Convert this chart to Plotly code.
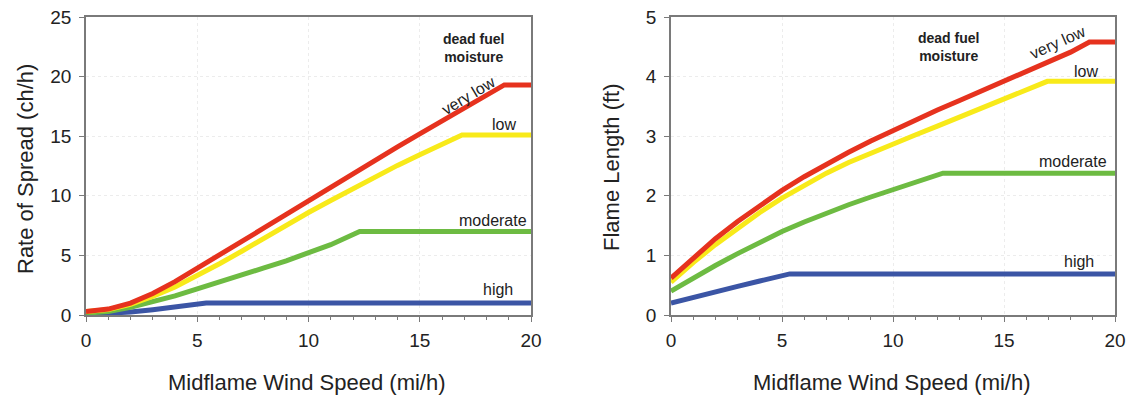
import plotly.graph_objects as go
from plotly.subplots import make_subplots

# ---- Rate of spread (ch/h) vs midflame wind speed (mi/h) ----
ros_vlow_x = [0, 1, 2, 3, 4, 5, 6, 7, 8, 9, 10, 11, 12, 13, 14, 15, 16, 17, 18, 18.8, 20]
ros_vlow_y = [0.3, 0.5, 1.0, 1.8, 2.8, 3.9, 5.0, 6.15, 7.3, 8.45, 9.6, 10.75, 11.9, 13.0, 14.1, 15.2, 16.3, 17.35, 18.4, 19.3, 19.3]
ros_low_x = [0, 1, 2, 3, 4, 5, 6, 7, 8, 9, 10, 11, 12, 13, 14, 15, 16, 16.9, 20]
ros_low_y = [0.3, 0.45, 0.9, 1.55, 2.35, 3.3, 4.3, 5.35, 6.45, 7.55, 8.6, 9.6, 10.6, 11.6, 12.55, 13.45, 14.3, 15.1, 15.1]
ros_mod_x = [0, 1, 2, 3, 4, 5, 6, 7, 8, 9, 10, 11, 12.3, 20]
ros_mod_y = [0.15, 0.3, 0.65, 1.1, 1.6, 2.2, 2.75, 3.35, 3.95, 4.55, 5.2, 5.9, 7.0, 7.0]
ros_high_x = [0, 1, 2, 3, 4, 5.4, 20]
ros_high_y = [0.05, 0.1, 0.25, 0.45, 0.7, 1.0, 1.0]

# ---- Flame length (ft) vs midflame wind speed (mi/h) ----
fl_vlow_x = [0, 1, 2, 3, 4, 5, 6, 7, 8, 9, 10, 11, 12, 13, 14, 15, 16, 17, 18, 18.85, 20]
fl_vlow_y = [0.62, 0.96, 1.28, 1.57, 1.84, 2.09, 2.32, 2.53, 2.73, 2.92, 3.1, 3.27, 3.44, 3.6, 3.76, 3.92, 4.08, 4.24, 4.41, 4.58, 4.58]
fl_low_x = [0, 1, 2, 3, 4, 5, 6, 7, 8, 9, 10, 11, 12, 13, 14, 15, 16, 16.95, 20]
fl_low_y = [0.55, 0.88, 1.18, 1.46, 1.72, 1.96, 2.18, 2.38, 2.56, 2.72, 2.87, 3.02, 3.17, 3.32, 3.47, 3.62, 3.77, 3.92, 3.92]
fl_mod_x = [0, 1, 2, 3, 4, 5, 6, 7, 8, 9, 10, 11, 12.25, 20]
fl_mod_y = [0.4, 0.62, 0.83, 1.03, 1.22, 1.4, 1.56, 1.71, 1.85, 1.98, 2.1, 2.22, 2.38, 2.38]
fl_high_x = [0, 1, 2, 3, 4, 5.35, 20]
fl_high_y = [0.2, 0.3, 0.39, 0.48, 0.57, 0.69, 0.69]

series_names = ["very low", "low", "moderate", "high"]
colors = ["#e6321e", "#f8ea1a", "#6dbb42", "#3b55a5"]

x_ticks = [0, 5, 10, 15, 20]
ros_ticks = [0, 5, 10, 15, 20, 25]
fl_ticks = [0, 1, 2, 3, 4, 5]

x_title = "Midflame Wind Speed (mi/h)"
ros_title = "Rate of Spread (ch/h)"
fl_title = "Flame Length (ft)"
legend_title = "<b>dead fuel<br>moisture</b>"

W, H = 1129, 398
T, B = 17, 83
PH = H - T - B
FONT = "Liberation Sans, Arial, sans-serif"
TXT = "#222222"
AX = "#7a7a7a"

fig = make_subplots(rows=1, cols=2)

ros_data = [(ros_vlow_x, ros_vlow_y), (ros_low_x, ros_low_y), (ros_mod_x, ros_mod_y), (ros_high_x, ros_high_y)]
fl_data = [(fl_vlow_x, fl_vlow_y), (fl_low_x, fl_low_y), (fl_mod_x, fl_mod_y), (fl_high_x, fl_high_y)]

for i in reversed(range(4)):
    fig.add_trace(go.Scatter(x=ros_data[i][0], y=ros_data[i][1], mode="lines", name=series_names[i],
                             line=dict(color=colors[i], width=5), showlegend=False), row=1, col=1)
    fig.add_trace(go.Scatter(x=fl_data[i][0], y=fl_data[i][1], mode="lines", name=series_names[i],
                             line=dict(color=colors[i], width=5), showlegend=False), row=1, col=2)

axis_common = dict(
    showline=True, mirror=True, linecolor=AX, linewidth=1.5,
    ticks="outside", ticklen=5, tickcolor=AX, tickwidth=1,
    showgrid=True, gridcolor="#ececec", griddash="dot", gridwidth=1,
    zeroline=False, automargin=False,
    tickfont=dict(family=FONT, size=19, color=TXT),
)

fig.update_xaxes(range=[0, 20], tickvals=x_ticks, ticklabelstandoff=2,
                 minor=dict(dtick=1, ticks="outside", ticklen=3, tickcolor=AX, showgrid=False),
                 **axis_common)
fig.update_xaxes(domain=[86 / W, 531 / W], row=1, col=1)
fig.update_xaxes(domain=[671 / W, 1115 / W], row=1, col=2)
fig.update_yaxes(range=[0, 25], tickvals=ros_ticks, ticklabelstandoff=4, row=1, col=1, **axis_common)
fig.update_yaxes(range=[0, 5], tickvals=fl_ticks, ticklabelstandoff=4, row=1, col=2, **axis_common)

title_font = dict(family=FONT, size=22, color=TXT)
ypix = lambda p: (H - B - p) / PH  # pixel row -> paper y
for cx, txt in [(307, x_title), (892, x_title)]:
    fig.add_annotation(xref="paper", yref="paper", x=cx / W, y=ypix(383), text=txt, showarrow=False,
                       xanchor="center", yanchor="middle", font=title_font)
for cx, cy, txt in [(26, 169, ros_title), (611, 167, fl_title)]:
    fig.add_annotation(xref="paper", yref="paper", x=cx / W, y=ypix(cy), text=txt, showarrow=False,
                       textangle=-90, xanchor="center", yanchor="middle", font=title_font)

lab_font = dict(family=FONT, size=16, color=TXT)
bold_font = dict(family=FONT, size=14, color=TXT)
anns = [
    dict(xref="x", yref="y", x=17.4, y=22.4, text=legend_title, font=bold_font),
    dict(xref="x", yref="y", x=17.2, y=18.4, text=series_names[0], textangle=-31),
    dict(xref="x", yref="y", x=18.8, y=16.0, text=series_names[1]),
    dict(xref="x", yref="y", x=18.3, y=7.9, text=series_names[2]),
    dict(xref="x", yref="y", x=18.5, y=2.1, text=series_names[3]),
    dict(xref="x2", yref="y2", x=12.5, y=4.5, text=legend_title, font=bold_font),
    dict(xref="x2", yref="y2", x=17.4, y=4.58, text=series_names[0], textangle=-24),
    dict(xref="x2", yref="y2", x=18.7, y=4.08, text=series_names[1]),
    dict(xref="x2", yref="y2", x=18.1, y=2.57, text=series_names[2]),
    dict(xref="x2", yref="y2", x=18.4, y=0.89, text=series_names[3]),
]
for a in anns:
    a.setdefault("font", lab_font)
    a.update(showarrow=False, xanchor="center", yanchor="middle")
    fig.add_annotation(**a)

fig.update_layout(
    width=W, height=H,
    margin=dict(l=0, r=0, t=T, b=B),
    paper_bgcolor="white", plot_bgcolor="white",
    font=dict(family=FONT, color=TXT),
)

fig.write_html("out.html", config={"displayModeBar": False},
               post_script="document.body.style.margin='0';document.body.style.overflow='hidden';")
